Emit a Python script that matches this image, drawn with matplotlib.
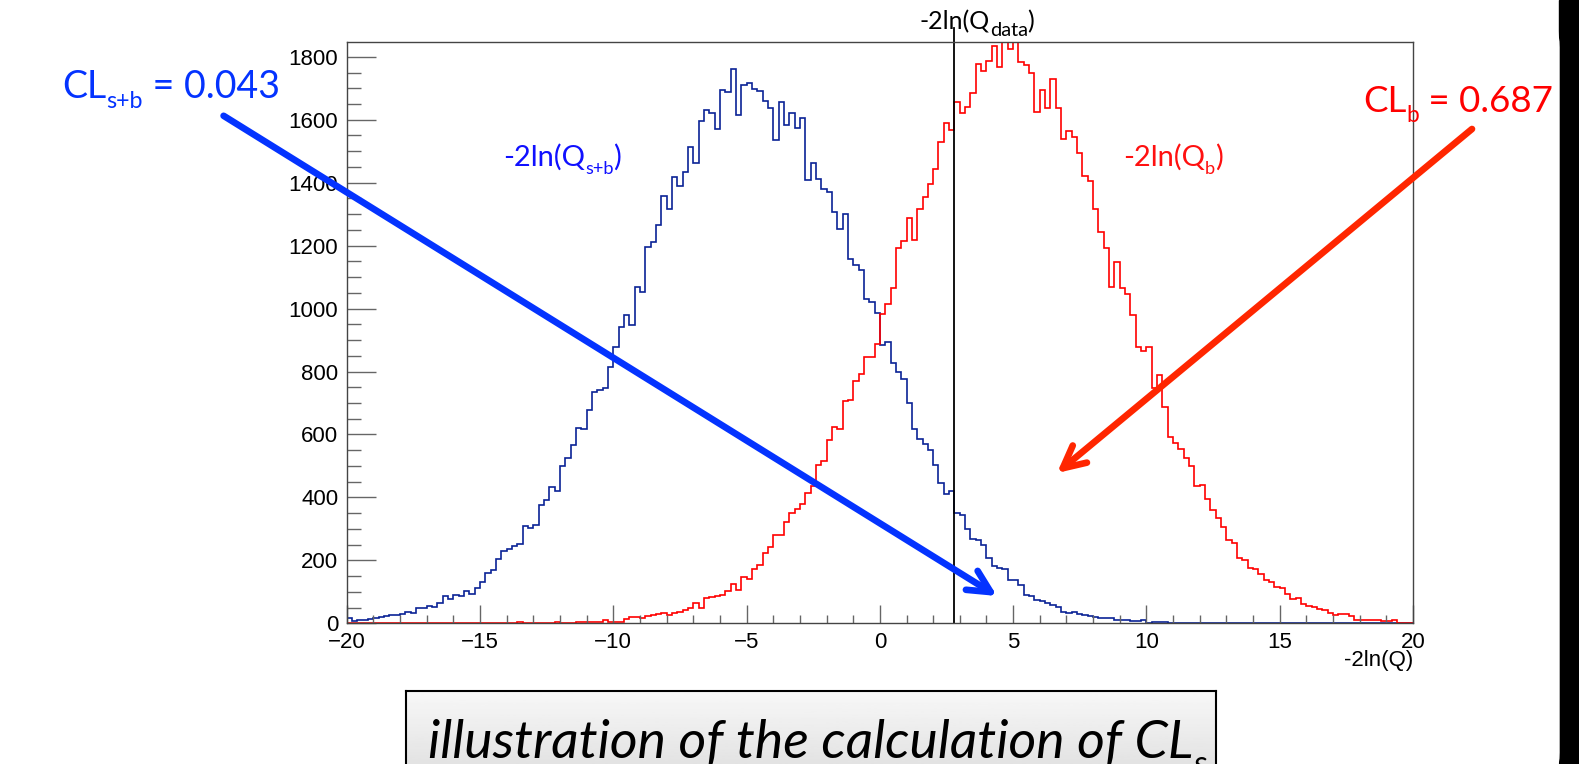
import numpy as np
import matplotlib.pyplot as plt
from matplotlib.ticker import MultipleLocator
from matplotlib.patches import FancyArrowPatch, Rectangle, FancyBboxPatch

plt.rcParams['font.family'] = ['Liberation Sans', 'DejaVu Sans']
plt.rcParams['axes.unicode_minus'] = True

# histogram binning: 200 bins from -20 to 20
x_min, x_max, n_bins = -20, 20, 200

# -2ln(Q) for the s+b hypothesis (blue), counts per bin
counts_sb = [16, 8, 10, 12, 15, 18, 20, 23, 26, 26,
             28, 37, 34, 48, 48, 55, 53, 64, 88, 78,
             90, 87, 103, 92, 111, 132, 159, 170, 203, 231,
             235, 246, 253, 309, 303, 313, 377, 392, 432, 421,
             500, 524, 565, 620, 618, 678, 734, 742, 749, 813,
             877, 940, 979, 947, 1069, 1053, 1196, 1210, 1265, 1358,
             1318, 1419, 1390, 1434, 1514, 1461, 1597, 1630, 1622, 1570,
             1696, 1687, 1760, 1615, 1712, 1718, 1699, 1692, 1660, 1636,
             1537, 1657, 1583, 1620, 1575, 1607, 1408, 1464, 1413, 1379,
             1371, 1307, 1252, 1299, 1157, 1138, 1124, 1029, 1021, 986,
             883, 894, 826, 800, 775, 700, 617, 586, 571, 552,
             504, 446, 412, 421, 349, 345, 301, 269, 266, 249,
             209, 181, 176, 173, 139, 139, 121, 89, 87, 73,
             71, 65, 57, 52, 36, 34, 36, 29, 25, 23,
             20, 18, 17, 16, 12, 10, 10, 6, 6, 10,
             2, 3, 4, 4, 1, 2, 1, 1, 0, 0,
             0, 2, 1, 0, 0, 0, 0, 0, 0, 0,
             0, 0, 1, 1, 0, 0, 0, 0, 0, 0,
             0, 0, 0, 0, 0, 0, 0, 0, 0, 0,
             0, 0, 0, 0, 0, 0, 0, 0, 0, 0]

# -2ln(Q) for the b-only hypothesis (red), counts per bin
counts_b = [0, 0, 0, 0, 0, 0, 0, 0, 0, 0,
            0, 0, 0, 0, 0, 0, 0, 0, 0, 0,
            0, 0, 0, 0, 0, 0, 2, 0, 2, 2,
            0, 0, 5, 0, 2, 0, 1, 0, 0, 5,
            0, 2, 0, 3, 4, 4, 4, 4, 11, 4,
            5, 3, 13, 19, 19, 16, 23, 26, 29, 33,
            26, 34, 37, 42, 48, 65, 50, 81, 84, 87,
            89, 103, 124, 105, 147, 142, 171, 184, 224, 243,
            280, 282, 322, 349, 364, 380, 414, 436, 502, 515,
            584, 624, 616, 707, 709, 769, 793, 846, 846, 889,
            982, 1013, 1066, 1191, 1215, 1289, 1217, 1316, 1353, 1397,
            1443, 1528, 1590, 1567, 1657, 1622, 1639, 1686, 1777, 1755,
            1786, 1834, 1768, 1900, 1826, 1890, 1784, 1773, 1750, 1625,
            1696, 1636, 1731, 1636, 1540, 1565, 1546, 1493, 1422, 1406,
            1315, 1242, 1194, 1067, 1148, 1064, 1046, 979, 878, 866,
            878, 749, 790, 688, 592, 574, 555, 525, 500, 436,
            441, 394, 359, 336, 306, 264, 255, 208, 202, 177,
            174, 158, 137, 131, 115, 113, 94, 78, 81, 60,
            55, 52, 47, 41, 33, 25, 28, 28, 22, 12,
            10, 10, 12, 10, 7, 8, 10, 0, 0, 0]

q_data = 2.78
cl_sb = 0.043
cl_b = 0.687

W, H = 1579, 764


def fx(px):
    return px / W


def fy(py):
    return 1 - py / H


edges = np.linspace(x_min, x_max, n_bins + 1)

fig = plt.figure(figsize=(W / 100, H / 100), dpi=100)
fig.patch.set_facecolor('white')
renderer = fig.canvas.get_renderer()


def rich_text(x, y, parts, size, color, ha='left', sub_scale=0.62, sub_drop=0.26, **kw):
    # parts: list of (string, is_subscript); x, y in pixels from top-left, y is the baseline
    placed = []
    cur = 0.0
    for s, sub in parts:
        fs = size * sub_scale if sub else size
        t = fig.text(0, 0, s, fontsize=fs, color=color, ha='left', va='baseline', **kw)
        w = t.get_window_extent(renderer).width
        dy = sub_drop * size * 100 / 72 if sub else 0
        placed.append((t, cur, dy))
        cur += w
    x0 = x - cur / 2 if ha == 'center' else x
    for t, off, dy in placed:
        t.set_position((fx(x0 + off), fy(y + dy)))


ax = fig.add_axes([fx(346.7), fy(623.3), (1413 - 346.7) / W, (623.3 - 41.7) / H])
ax.stairs(counts_sb, edges, color='#0a2396', lw=1.2)
ax.stairs(counts_b, edges, color='#ff0000', lw=1.2)
ax.set_xlim(x_min, x_max)
ax.set_ylim(0, 1.05 * max(counts_sb))
ax.axvline(q_data, ymin=0, ymax=1.0236, color='black', lw=1.3, clip_on=False)

ax.xaxis.set_major_locator(MultipleLocator(5))
ax.xaxis.set_minor_locator(MultipleLocator(1))
ax.yaxis.set_major_locator(MultipleLocator(200))
ax.yaxis.set_minor_locator(MultipleLocator(50))
ax.tick_params(which='both', direction='in', color='#666666', width=1,
               top=False, right=False, labelsize=16)
ax.tick_params(axis='x', which='major', length=13, pad=6)
ax.tick_params(axis='x', which='minor', length=6)
ax.tick_params(axis='y', which='major', length=21, pad=6)
ax.tick_params(axis='y', which='minor', length=10)
for s in ax.spines.values():
    s.set_color('#444444')
    s.set_linewidth(1)

fig.text(fx(1413), fy(650), '-2ln(Q)', ha='right', va='top', fontsize=16)

# labels on the histograms
lato = 'Lato'
rich_text(977, 29, [('-2ln(Q', False), ('data', True), (')', False)], 18, 'black',
          ha='center', sub_scale=0.8, sub_drop=0.3, family=lato)
rich_text(503, 166, [('-2ln(Q', False), ('s+b', True), (')', False)], 21, '#1010ff',
          family=lato)
rich_text(1123, 166, [('-2ln(Q', False), ('b', True), (')', False)], 21, '#ff1010',
          family=lato)

# CL values and arrows
rich_text(62, 98, [('CL', False), ('s+b', True), (' = %.3f' % cl_sb, False)], 27, '#0433ff',
          family=lato)
rich_text(1363, 112, [('CL', False), ('b', True), (' = %.3f' % cl_b, False)], 26.5, '#ff0000',
          family=lato)

arr_sb = FancyArrowPatch((fx(223.6), fy(115.8)), (fx(997), fy(596)),
                         transform=fig.transFigure, arrowstyle='->,head_length=16,head_width=8',
                         lw=4.8, color='#0433ff', shrinkA=0, shrinkB=0,
                         capstyle='round', joinstyle='round')
fig.add_artist(arr_sb)
arr_b = FancyArrowPatch((fx(1472), fy(129)), (fx(1057), fy(473)),
                        transform=fig.transFigure, arrowstyle='->,head_length=16,head_width=8',
                        lw=4.8, color='#ff2600', shrinkA=0, shrinkB=0,
                        capstyle='round', joinstyle='round')
fig.add_artist(arr_b)

# caption box at the bottom
box_ax = fig.add_axes([fx(406), 0, (1216 - 406) / W, (764 - 691) / H])
grad = np.linspace(0.97, 0.89, 50).reshape(-1, 1)
box_ax.imshow(grad, cmap='gray', vmin=0, vmax=1, aspect='auto', extent=[0, 1, 0, 1])
box_ax.set_xticks([])
box_ax.set_yticks([])
for side in ['top', 'left', 'right']:
    box_ax.spines[side].set_color('black')
    box_ax.spines[side].set_linewidth(1.5)
box_ax.spines['bottom'].set_visible(False)
rich_text(428, 758, [('illustration of the calculation of CL', False), ('s', True)], 38.5,
          'black', sub_scale=0.62, sub_drop=0.3, family=lato, style='italic')

# dark slide edge on the right
fig.add_artist(Rectangle((fx(1559), 0), 1 - fx(1559), 1, transform=fig.transFigure,
                         color='black', zorder=-5))
fig.add_artist(FancyBboxPatch((fx(1400), fy(800)), fx(1559) - fx(1400), fy(0) - fy(800),
                              boxstyle='round,pad=0,rounding_size=0.03',
                              transform=fig.transFigure, color='white', zorder=-4,
                              mutation_aspect=W / H))

fig.savefig('out.png', dpi=100)
